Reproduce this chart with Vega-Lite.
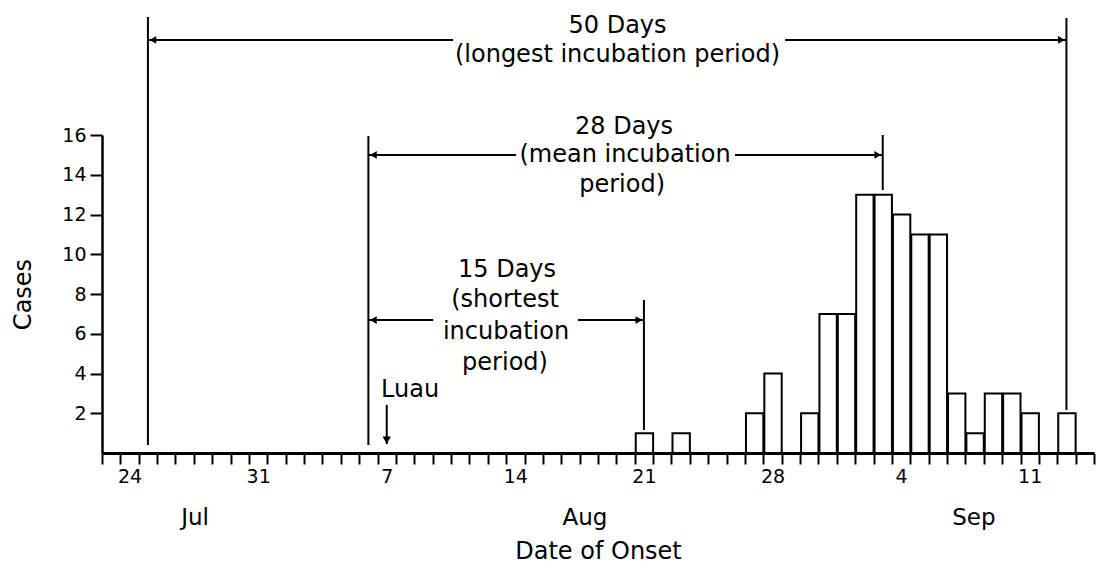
{
  "$schema": "https://vega.github.io/schema/vega-lite/v6.json",
  "width": 992,
  "height": 318,
  "autosize": {"type": "none"},
  "padding": {"left": 102, "top": 135, "right": 2, "bottom": 117},
  "background": "white",
  "config": {
    "font": "DejaVu Sans",
    "view": {"stroke": null},
    "axis": {
      "domainColor": "black",
      "tickColor": "black",
      "labelColor": "black",
      "titleColor": "black",
      "grid": false,
      "labelFont": "DejaVu Sans",
      "titleFont": "DejaVu Sans",
      "titleFontWeight": "normal",
      "labelFontSize": 19,
      "titleFontSize": 24,
      "tickWidth": 2
    },
    "axisX": {"tickSize": 11, "labelPadding": 3, "titlePadding": 53, "domainWidth": 3},
    "axisY": {"tickSize": 12, "labelPadding": 4, "titlePadding": 26, "domainWidth": 2.5},
    "text": {"font": "DejaVu Sans", "color": "black"}
  },
  "datasets": {
    "cases": [
      {"date": "2022-08-21", "cases": 1},
      {"date": "2022-08-23", "cases": 1},
      {"date": "2022-08-27", "cases": 2},
      {"date": "2022-08-28", "cases": 4},
      {"date": "2022-08-30", "cases": 2},
      {"date": "2022-08-31", "cases": 7},
      {"date": "2022-09-01", "cases": 7},
      {"date": "2022-09-02", "cases": 13},
      {"date": "2022-09-03", "cases": 13},
      {"date": "2022-09-04", "cases": 12},
      {"date": "2022-09-05", "cases": 11},
      {"date": "2022-09-06", "cases": 11},
      {"date": "2022-09-07", "cases": 3},
      {"date": "2022-09-08", "cases": 1},
      {"date": "2022-09-09", "cases": 3},
      {"date": "2022-09-10", "cases": 3},
      {"date": "2022-09-11", "cases": 2},
      {"date": "2022-09-13", "cases": 2}
    ],
    "vlines": [
      {"date": "2022-07-25T12:00:00Z", "top": 21.94, "bottom": 0.4},
      {"date": "2022-08-06T12:00:00Z", "top": 15.95, "bottom": 0.4},
      {"date": "2022-08-21T12:00:00Z", "top": 7.7, "bottom": 1.16},
      {"date": "2022-09-03T12:00:00Z", "top": 16.0, "bottom": 13.23},
      {"date": "2022-09-13T12:00:00Z", "top": 21.89, "bottom": 2.16}
    ],
    "hseg": [
      {"start": "2022-07-25T12:00:00Z", "end": "2022-08-11T02:40:00Z", "y": 20.78, "side": "left"},
      {"start": "2022-08-29T04:20:00Z", "end": "2022-09-13T12:00:00Z", "y": 20.78, "side": "right"},
      {"start": "2022-08-06T12:00:00Z", "end": "2022-08-14T13:00:00Z", "y": 15.0, "side": "left"},
      {"start": "2022-08-26T11:00:00Z", "end": "2022-09-03T12:00:00Z", "y": 15.0, "side": "right"},
      {"start": "2022-08-06T12:00:00Z", "end": "2022-08-10T00:30:00Z", "y": 6.69, "side": "left"},
      {"start": "2022-08-17T21:50:00Z", "end": "2022-08-21T12:00:00Z", "y": 6.69, "side": "right"}
    ],
    "notes": [
      {"date": "2022-08-20T01:30:00Z", "y": 21.48, "text": "50 Days"},
      {"date": "2022-08-20T01:30:00Z", "y": 20.03, "text": "(longest incubation period)"},
      {"date": "2022-08-20T10:00:00Z", "y": 16.4, "text": "28 Days"},
      {"date": "2022-08-20T11:20:00Z", "y": 14.99, "text": "(mean incubation"},
      {"date": "2022-08-20T07:30:00Z", "y": 13.48, "text": "period)"},
      {"date": "2022-08-14T01:10:00Z", "y": 9.21, "text": "15 Days"},
      {"date": "2022-08-13T22:30:00Z", "y": 7.7, "text": "(shortest"},
      {"date": "2022-08-13T23:50:00Z", "y": 6.09, "text": "incubation"},
      {"date": "2022-08-13T22:30:00Z", "y": 4.53, "text": "period)"},
      {"date": "2022-08-08T18:30:00Z", "y": 3.17, "text": "Luau"}
    ],
    "luau": [
      {"date": "2022-08-07T12:00:00Z", "top": 2.42, "bottom": 0.45}
    ],
    "months": [
      {"date": "2022-07-28T01:30:00Z", "month": "Jul"},
      {"date": "2022-08-18T07:00:00Z", "month": "Aug"},
      {"date": "2022-09-08T11:00:00Z", "month": "Sep"}
    ]
  },
  "layer": [
    {
      "data": {"name": "cases"},
      "mark": {"type": "bar", "fill": "white", "stroke": "black", "strokeWidth": 2},
      "encoding": {
        "x": {
          "field": "date",
          "timeUnit": "utcyearmonthdate",
          "type": "temporal",
          "scale": {"type": "utc", "domain": [{"year": 2022, "month": 7, "date": 23, "utc": true}, {"year": 2022, "month": 9, "date": 15, "utc": true}]},
          "axis": {
            "title": "Date of Onset",
            "tickCount": {"interval": "day", "step": 1},
            "labelExpr": "utcday(datum.value) === 0 ? utcFormat(datum.value, '%-d') : ''",
            "labelOffset": 9.2,
            "labelAngle": 0,
            "labelAlign": "center",
            "labelOverlap": false,
            "labelFlush": false,
            "labelBound": false,
            "labelFontSize": 19,
            "titleFontSize": 24
          }
        },
        "y": {
          "field": "cases",
          "type": "quantitative",
          "scale": {"domain": [0, 16], "nice": false},
          "axis": {
            "title": "Cases",
            "values": [2, 4, 6, 8, 10, 12, 14, 16],
            "labelFontSize": 19,
            "titleFontSize": 24
          }
        }
      }
    },
    {
      "data": {"name": "vlines"},
      "mark": {"type": "rule", "strokeWidth": 2, "color": "black"},
      "encoding": {
        "x": {"field": "date", "type": "temporal", "scale": {"type": "utc", "domain": [{"year": 2022, "month": 7, "date": 23, "utc": true}, {"year": 2022, "month": 9, "date": 15, "utc": true}]}},
        "y": {"field": "top", "type": "quantitative", "scale": {"domain": [0, 16], "nice": false}},
        "y2": {"field": "bottom"}
      }
    },
    {
      "data": {"name": "hseg"},
      "mark": {"type": "rule", "strokeWidth": 2, "color": "black"},
      "encoding": {
        "x": {"field": "start", "type": "temporal", "scale": {"type": "utc", "domain": [{"year": 2022, "month": 7, "date": 23, "utc": true}, {"year": 2022, "month": 9, "date": 15, "utc": true}]}},
        "x2": {"field": "end"},
        "y": {"field": "y", "type": "quantitative", "scale": {"domain": [0, 16], "nice": false}}
      }
    },
    {
      "data": {"name": "hseg"},
      "transform": [{"filter": "datum.side === 'left'"}],
      "mark": {"type": "point", "shape": "triangle-left", "filled": true, "color": "black", "opacity": 1, "size": 60, "xOffset": 5},
      "encoding": {
        "x": {"field": "start", "type": "temporal", "scale": {"type": "utc", "domain": [{"year": 2022, "month": 7, "date": 23, "utc": true}, {"year": 2022, "month": 9, "date": 15, "utc": true}]}},
        "y": {"field": "y", "type": "quantitative", "scale": {"domain": [0, 16], "nice": false}}
      }
    },
    {
      "data": {"name": "hseg"},
      "transform": [{"filter": "datum.side === 'right'"}],
      "mark": {"type": "point", "shape": "triangle-right", "filled": true, "color": "black", "opacity": 1, "size": 60, "xOffset": -5},
      "encoding": {
        "x": {"field": "end", "type": "temporal", "scale": {"type": "utc", "domain": [{"year": 2022, "month": 7, "date": 23, "utc": true}, {"year": 2022, "month": 9, "date": 15, "utc": true}]}},
        "y": {"field": "y", "type": "quantitative", "scale": {"domain": [0, 16], "nice": false}}
      }
    },
    {
      "data": {"name": "luau"},
      "mark": {"type": "rule", "strokeWidth": 2, "color": "black"},
      "encoding": {
        "x": {"field": "date", "type": "temporal", "scale": {"type": "utc", "domain": [{"year": 2022, "month": 7, "date": 23, "utc": true}, {"year": 2022, "month": 9, "date": 15, "utc": true}]}},
        "y": {"field": "top", "type": "quantitative", "scale": {"domain": [0, 16], "nice": false}},
        "y2": {"field": "bottom"}
      }
    },
    {
      "data": {"name": "luau"},
      "mark": {"type": "point", "shape": "triangle-down", "filled": true, "color": "black", "opacity": 1, "size": 70, "yOffset": -4},
      "encoding": {
        "x": {"field": "date", "type": "temporal", "scale": {"type": "utc", "domain": [{"year": 2022, "month": 7, "date": 23, "utc": true}, {"year": 2022, "month": 9, "date": 15, "utc": true}]}},
        "y": {"field": "bottom", "type": "quantitative", "scale": {"domain": [0, 16], "nice": false}}
      }
    },
    {
      "data": {"name": "notes"},
      "mark": {"type": "text", "fontSize": 24, "align": "center", "baseline": "middle", "color": "black"},
      "encoding": {
        "x": {"field": "date", "type": "temporal", "scale": {"type": "utc", "domain": [{"year": 2022, "month": 7, "date": 23, "utc": true}, {"year": 2022, "month": 9, "date": 15, "utc": true}]}},
        "y": {"field": "y", "type": "quantitative", "scale": {"domain": [0, 16], "nice": false}},
        "text": {"field": "text"}
      }
    },
    {
      "data": {"name": "months"},
      "mark": {"type": "text", "fontSize": 23, "align": "center", "baseline": "middle", "color": "black"},
      "encoding": {
        "x": {"field": "date", "type": "temporal", "scale": {"type": "utc", "domain": [{"year": 2022, "month": 7, "date": 23, "utc": true}, {"year": 2022, "month": 9, "date": 15, "utc": true}]}},
        "y": {"datum": -3.25, "type": "quantitative", "scale": {"domain": [0, 16], "nice": false}},
        "text": {"field": "month"}
      }
    }
  ]
}
